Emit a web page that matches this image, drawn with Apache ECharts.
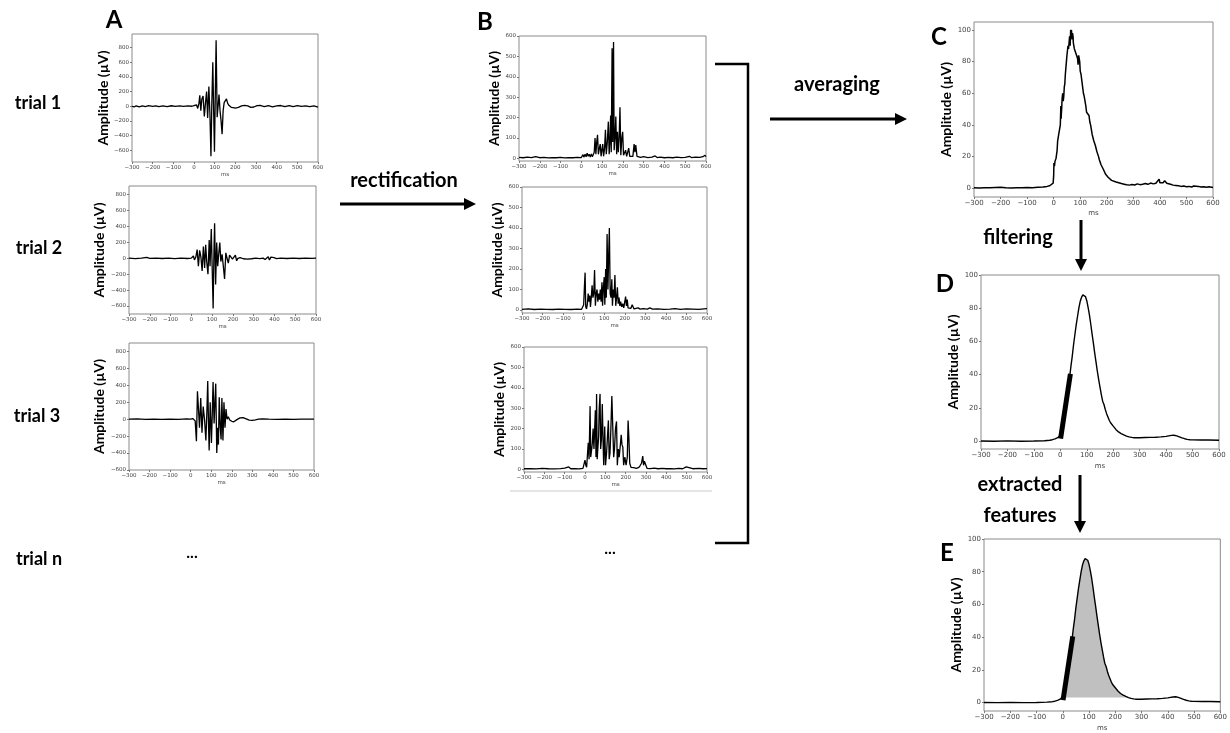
<!DOCTYPE html>
<html>
<head>
<meta charset="utf-8">
<script src="https://cdn.jsdelivr.net/npm/echarts@6/dist/echarts.min.js"></script>
<style>
  html, body { margin: 0; background: #fff; }
  #chart { width: 1230px; height: 733px; }
</style>
</head>
<body>
<div id="chart"></div>
<script>
// tick values
const msTicks = [-300, -200, -100, 0, 100, 200, 300, 400, 500, 600];
const rawTicks = [-600, -400, -200, 0, 200, 400, 600, 800];
const rectTicks = [0, 100, 200, 300, 400, 500, 600];
const avgTicks = [0, 20, 40, 60, 80, 100];

// raw EMG trials [ms, µV]
const trial1 = [[-300,0],[-290,-10],[-280,5],[-265,-8],[-250,6],[-235,-5],[-220,8],[-200,-3],[-185,6],[-170,-6],[-150,4],[-130,-4],[-110,7],[-90,-2],[-70,5],[-50,-3],[-30,6],[-10,0],[0,10],[5,-15],[12,20],[18,-30],[24,40],[28,150],[33,-60],[38,100],[44,140],[50,-140],[56,60],[61,200],[66,-160],[72,270],[77,-100],[82,-680],[86,0],[91,600],[95,-50],[99,-620],[103,150],[107,900],[112,-150],[116,-20],[121,160],[126,-60],[131,-200],[136,-380],[141,-60],[146,50],[151,30],[157,100],[163,40],[170,10],[180,-15],[190,-20],[200,-25],[215,-15],[230,5],[245,12],[260,5],[275,-15],[290,-10],[305,8],[320,12],[340,-5],[360,8],[380,-8],[400,6],[420,10],[440,-4],[460,8],[480,-6],[500,10],[520,-3],[540,6],[560,-5],[580,4],[600,-12]];
const trial2 = [[-300,2],[-270,-3],[-240,4],[-215,12],[-200,0],[-170,3],[-140,-2],[-110,4],[-80,-3],[-50,2],[-20,-2],[0,3],[6,-10],[10,30],[15,-20],[22,20],[28,110],[34,-100],[40,100],[46,20],[52,-160],[58,150],[64,-120],[69,170],[74,-40],[80,-200],[86,230],[90,-100],[96,370],[100,-80],[105,-630],[109,100],[112,440],[117,-330],[122,200],[127,-100],[132,60],[137,200],[142,-40],[148,50],[154,-100],[160,-260],[166,70],[172,0],[178,-60],[184,40],[190,20],[198,-10],[205,10],[212,40],[218,-30],[224,0],[235,10],[250,-5],[270,-10],[290,-5],[310,2],[330,-3],[345,3],[355,-15],[362,5],[370,20],[376,-20],[383,15],[390,-10],[398,8],[410,-3],[430,2],[460,-2],[490,3],[520,-2],[550,2],[580,-1],[600,2]];
const trial3 = [[-300,0],[-260,3],[-220,-2],[-180,2],[-140,-3],[-100,2],[-60,-2],[-20,3],[0,2],[10,8],[16,25],[22,-20],[28,-260],[33,330],[38,120],[43,-100],[49,250],[55,-160],[61,150],[68,-20],[74,-250],[79,100],[83,450],[87,-80],[90,-370],[95,200],[101,-280],[105,60],[109,440],[114,-50],[118,200],[122,420],[127,-400],[131,-100],[135,-300],[139,260],[144,-100],[148,-240],[152,250],[157,-250],[162,200],[167,-100],[172,120],[177,0],[183,30],[190,-10],[200,-25],[210,-30],[225,-5],[240,15],[255,18],[270,5],[285,-10],[300,-15],[315,-8],[330,0],[350,4],[380,1],[420,-2],[460,2],[500,-1],[540,2],[580,0],[600,0]];

// rectified trials [ms, µV]
const rect1 = [[-300,5],[-280,3],[-260,6],[-240,4],[-220,9],[-200,3],[-180,5],[-160,2],[-140,4],[-120,3],[-100,5],[-80,2],[-60,4],[-40,3],[-20,5],[0,4],[8,18],[12,6],[18,20],[23,8],[28,25],[33,10],[38,20],[43,6],[48,22],[53,8],[58,15],[62,30],[66,100],[70,20],[74,80],[78,115],[82,20],[87,50],[91,70],[95,10],[99,40],[103,70],[107,10],[112,50],[116,140],[120,20],[125,80],[130,180],[134,20],[138,100],[141,210],[144,30],[148,540],[151,80],[155,570],[158,40],[162,100],[166,205],[170,20],[174,130],[178,30],[182,100],[186,250],[190,15],[195,100],[199,130],[203,15],[208,20],[213,40],[218,10],[223,30],[228,50],[233,10],[240,15],[248,10],[254,70],[258,30],[262,65],[268,10],[275,15],[285,5],[300,8],[320,4],[340,6],[355,12],[365,4],[380,6],[400,3],[420,5],[440,3],[460,6],[480,4],[500,5],[520,10],[530,4],[550,6],[570,5],[585,8],[595,15],[600,8]];
const rect2 = [[-300,3],[-270,5],[-240,2],[-210,4],[-180,3],[-150,2],[-120,4],[-90,3],[-60,2],[-30,4],[-10,3],[-5,10],[0,25],[4,120],[7,182],[10,15],[14,5],[18,30],[22,80],[26,40],[30,70],[33,15],[37,60],[41,120],[45,60],[49,80],[53,195],[57,20],[61,80],[65,100],[69,40],[73,80],[77,50],[81,100],[85,40],[89,135],[92,20],[96,110],[100,160],[103,25],[107,200],[110,60],[114,370],[118,100],[121,240],[125,400],[129,80],[133,60],[137,150],[140,20],[144,100],[148,60],[152,170],[156,20],[160,60],[164,110],[168,30],[172,60],[176,20],[180,40],[185,15],[190,30],[195,10],[200,40],[204,65],[208,20],[212,50],[216,10],[222,15],[230,8],[236,25],[240,20],[245,5],[255,8],[265,10],[275,4],[290,6],[310,4],[322,10],[335,4],[360,5],[390,3],[420,4],[445,6],[470,3],[500,5],[530,4],[560,3],[585,5],[600,6]];
const rect3 = [[-300,3],[-270,4],[-240,2],[-210,5],[-180,3],[-150,2],[-120,4],[-100,6],[-80,12],[-70,3],[-50,4],[-30,2],[-10,5],[-3,8],[0,45],[4,20],[8,10],[12,70],[16,130],[20,50],[25,310],[28,60],[33,100],[36,130],[40,200],[44,100],[48,210],[51,290],[54,60],[57,370],[60,50],[63,100],[67,160],[70,300],[74,370],[77,100],[81,150],[85,320],[89,130],[92,20],[97,210],[101,20],[106,80],[110,150],[115,240],[119,50],[123,80],[127,190],[132,360],[137,360],[141,60],[145,100],[150,200],[155,235],[159,20],[164,100],[168,60],[173,110],[178,170],[182,120],[186,110],[190,20],[196,60],[202,20],[208,60],[212,240],[216,150],[220,30],[226,10],[240,8],[252,5],[265,10],[272,20],[278,30],[284,65],[288,20],[292,40],[295,45],[299,35],[305,5],[320,4],[340,6],[360,3],[380,5],[400,3],[420,4],[440,2],[460,5],[480,3],[498,12],[505,4],[530,3],[560,5],[580,3],[600,4]];

// averaged rectified signal [ms, µV]
const averaged = [[-300,0.3],[-280,0.2],[-260,0.4],[-240,0.3],[-220,0.5],[-200,0.6],[-180,0.3],[-160,0.2],[-140,0.4],[-120,0.3],[-100,0.5],[-80,0.4],[-60,0.6],[-40,0.8],[-25,1.2],[-15,1.6],[-8,2.2],[-2,3.2],[0,8],[1,16],[3,14],[5,17],[7,16],[9,19],[11,18],[13,24],[15,30],[17,29],[19,34],[21,33],[23,38],[25,40],[27,52],[28,44],[30,50],[32,57],[34,60],[36,55],[38,58],[40,64],[42,66],[44,72],[46,76],[48,80],[50,84],[52,85],[54,90],[56,88],[58,92],[60,96],[62,90],[64,100],[65,98],[67,100],[69,94],[71,98],[73,96],[74,92],[76,90],[78,88],[80,89],[82,86],[84,86],[86,84],[88,83],[90,82],[92,78],[94,84],[96,82],[98,80],[100,74],[103,72],[106,68],[109,64],[112,60],[115,58],[118,55],[121,52],[124,48],[127,47],[130,47],[133,46],[136,42],[139,40],[142,37],[145,34],[148,33],[151,30],[154,29],[157,27],[160,25],[163,23],[166,22],[169,20],[172,18],[175,17],[178,15],[181,14],[184,15],[187,12],[190,11],[195,9],[200,8],[205,7],[210,6],[218,5],[225,4.5],[235,4],[245,3.5],[255,3],[265,2.6],[275,2.2],[285,2],[295,2.4],[305,2.1],[315,2.8],[325,2.3],[335,2.6],[345,3],[355,2.5],[365,3.3],[375,2.8],[385,3.2],[392,2.5],[397,5.8],[400,3.5],[405,3],[412,3.5],[418,4.8],[422,5.2],[426,3.2],[432,3.6],[440,2.5],[450,2],[460,1.8],[470,1.6],[480,1.2],[490,1.4],[500,1],[510,1.2],[520,0.8],[528,1.5],[535,1],[545,1.2],[555,0.8],[565,1],[575,0.7],[585,1],[600,0.5]];

// filtered envelope [ms, µV]
const filtered = [[-300,0],[-250,-0.1],[-200,0.1],[-150,-0.1],[-100,0],[-60,0.2],[-40,0.5],[-30,0.8],[-20,1.3],[-10,2],[-5,2.5],[0,3.5],[5,5.5],[10,9],[15,13],[20,19],[25,25],[30,31],[35,38],[40,45],[45,51],[50,58],[55,64],[60,70],[65,75],[70,80],[75,84],[80,86.5],[85,88],[90,88.3],[95,87],[100,84.5],[105,80.5],[110,76],[115,70.5],[120,64.5],[125,59],[130,53],[135,47.5],[140,42],[145,37],[150,32.5],[155,28],[160,24],[165,22],[170,19],[175,16.5],[180,14.5],[185,12.5],[190,11],[200,9],[210,7],[220,5.5],[230,4.5],[240,3.7],[250,3],[260,2.5],[270,2.2],[280,2],[290,2],[300,2],[320,2.1],[340,2.2],[360,2.3],[380,2.5],[400,2.8],[410,3.1],[420,3.4],[430,3.5],[440,3.1],[450,2.5],[460,1.9],[470,1.4],[480,1],[490,0.8],[500,0.7],[530,0.6],[560,0.6],[600,0.5]];
// onset slope segment [ms, µV]
const slope = [[1,1.5],[38,40.5]];
// shaded area limits (ms)
const areaStart = 3;
const areaEnd = 255;
const areaBase = 3;

const minus = v => String(v).replace('-', '\u2212');

const panels = [
  { data: trial1, box: [132, 34, 186, 128], y: [-760, 985], ticks: rawTicks, gap: 22, font: 5.5, msGap: 9, lw: 1.3 },
  { data: trial2, box: [129, 186, 187, 128], y: [-700, 910], ticks: rawTicks, gap: 23, font: 5.5, msGap: 9, lw: 1.3 },
  { data: trial3, box: [129, 343, 185, 127], y: [-600, 900], ticks: rawTicks, gap: 23, font: 5.5, msGap: 9, lw: 1.3 },
  { data: rect1, box: [519, 36, 187, 125], y: [-13, 600], ticks: rectTicks, gap: 12, font: 5.5, msGap: 9, lw: 1.3 },
  { data: rect2, box: [522, 187, 185, 126], y: [-15, 600], ticks: rectTicks, gap: 15, font: 5.5, msGap: 9, lw: 1.3 },
  { data: rect3, box: [524, 347, 183, 125], y: [-13, 600], ticks: rectTicks, gap: 16, font: 5.5, msGap: 9, lw: 1.3 },
  { data: averaged, box: [974, 22, 239, 175], y: [-5.5, 105], ticks: avgTicks, gap: 10, font: 7, msGap: 13, lw: 1.5 },
  { data: filtered, box: [981, 275, 238, 174], y: [-4.8, 100], ticks: avgTicks, gap: 11, font: 7, msGap: 14, lw: 1.4, slope: true },
  { data: filtered, box: [984, 539, 241, 177], y: [-5.2, 100], ticks: avgTicks, gap: 14, font: 7, msGap: 14, lw: 1.4, slope: true, area: true }
];

const grid = [], xAxis = [], yAxis = [], series = [];
panels.forEach((p, i) => {
  grid.push({
    left: p.box[0], top: p.box[1], width: p.box[2], height: p.box[3],
    show: true, borderColor: '#8a8a8a', borderWidth: 1, backgroundColor: 'transparent'
  });
  xAxis.push({
    type: 'value', gridIndex: i, min: -300, max: 600,
    axisLine: { show: false, onZero: false },
    axisTick: { show: true, length: 2, customValues: msTicks, lineStyle: { color: '#777' } },
    axisLabel: { customValues: msTicks, fontSize: p.font, color: '#444', margin: 3, fontFamily: 'DejaVu Sans', formatter: minus },
    splitLine: { show: false },
    name: 'ms', nameLocation: 'middle', nameGap: p.msGap,
    nameTextStyle: { fontSize: p.font, color: '#444', fontFamily: 'DejaVu Sans' }
  });
  yAxis.push({
    type: 'value', gridIndex: i, min: p.y[0], max: p.y[1],
    axisLine: { show: false, onZero: false },
    axisTick: { show: true, length: 2, customValues: p.ticks, lineStyle: { color: '#777' } },
    axisLabel: { customValues: p.ticks, fontSize: p.font, color: '#444', margin: 3, fontFamily: 'DejaVu Sans', formatter: minus },
    splitLine: { show: false },
    name: 'Amplitude (µV)', nameLocation: 'middle', nameRotate: 90, nameGap: p.gap,
    nameTextStyle: { fontSize: 14, fontWeight: 'bold', color: '#000', fontFamily: 'Lato' }
  });
  if (p.area) {
    series.push({
      type: 'line', xAxisIndex: i, yAxisIndex: i, silent: true, showSymbol: false,
      data: p.data.filter(d => d[0] >= areaStart && d[0] <= areaEnd),
      lineStyle: { width: 0 },
      areaStyle: { color: '#c0c0c0', opacity: 1, origin: areaBase }
    });
  }
  series.push({
    type: 'line', xAxisIndex: i, yAxisIndex: i, silent: true, showSymbol: false,
    data: p.data, lineStyle: { color: '#000', width: p.lw }
  });
  if (p.slope) {
    series.push({
      type: 'line', xAxisIndex: i, yAxisIndex: i, silent: true, showSymbol: false,
      data: slope, lineStyle: { color: '#000', width: 5, cap: 'butt' }
    });
  }
});

const txt = (t, x, y, size) => ({
  type: 'text', x: x, y: y, silent: true,
  style: { text: t, fontSize: size, fontWeight: 'bold', fontFamily: 'Lato', fill: '#000', align: 'center', verticalAlign: 'middle' }
});
const hArrow = (x1, x2, y) => [
  { type: 'line', silent: true, shape: { x1: x1, y1: y, x2: x2 - 10, y2: y }, style: { stroke: '#000', lineWidth: 3 } },
  { type: 'polygon', silent: true, shape: { points: [[x2 - 12, y - 6], [x2, y], [x2 - 12, y + 6]] }, style: { fill: '#000' } }
];
const vArrow = (x, y1, y2) => [
  { type: 'line', silent: true, shape: { x1: x, y1: y1, x2: x, y2: y2 - 10 }, style: { stroke: '#000', lineWidth: 3 } },
  { type: 'polygon', silent: true, shape: { points: [[x - 6, y2 - 12], [x, y2], [x + 6, y2 - 12]] }, style: { fill: '#000' } }
];

const graphic = [
  txt('A', 114, 20, 24), txt('B', 485, 22, 24), txt('C', 939, 37, 24), txt('D', 945, 284, 24), txt('E', 947, 553, 24),
  txt('trial 1', 38, 103, 18), txt('trial 2', 39, 248, 18), txt('trial 3', 37, 416, 18), txt('trial n', 39, 559, 18),
  txt('...', 192, 553, 16), txt('...', 610, 549, 16),
  txt('rectification', 404, 181, 20), txt('averaging', 837, 85, 20), txt('filtering', 1018, 238, 20),
  txt('extracted', 1020, 485, 20), txt('features', 1020, 516, 20),
  ...hArrow(340, 476, 204), ...hArrow(770, 907, 119),
  ...vArrow(1081, 220, 271), ...vArrow(1080, 475, 533),
  { type: 'polyline', silent: true, shape: { points: [[715, 64], [748, 64], [748, 543], [715, 543]] }, style: { stroke: '#000', lineWidth: 2.5, fill: null } },
  { type: 'line', silent: true, shape: { x1: 510, y1: 491, x2: 712, y2: 491 }, style: { stroke: '#dcdcdc', lineWidth: 1.5 } }
];

const chart = echarts.init(document.getElementById('chart'), null, { renderer: 'canvas' });
chart.setOption({
  animation: false,
  backgroundColor: '#fff',
  grid: grid,
  xAxis: xAxis,
  yAxis: yAxis,
  series: series,
  graphic: graphic
});
</script>
</body>
</html>
